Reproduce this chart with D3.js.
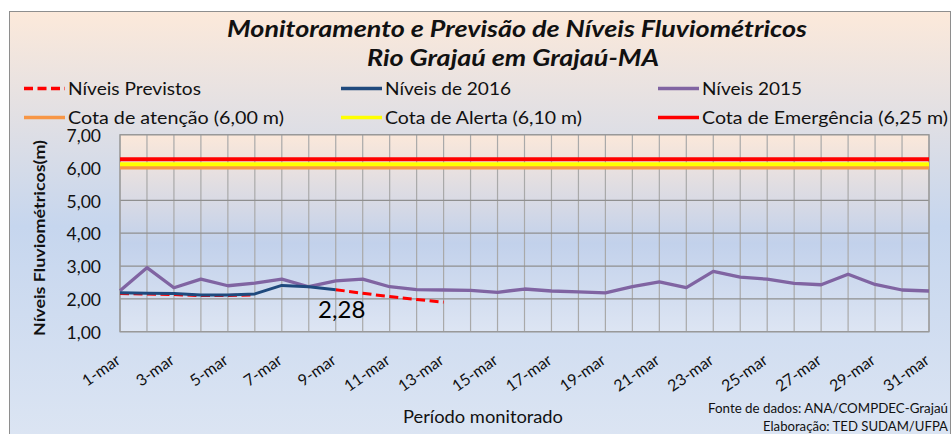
<!DOCTYPE html>
<html>
<head>
<meta charset="utf-8">
<script src="https://cdn.jsdelivr.net/npm/d3@7"></script>
<style>
  body { margin: 0; background: #fff; }
  text { font-family: Lato, "Open Sans", sans-serif; fill: #111; }
</style>
</head>
<body>
<div id="chart"></div>
<script>
const dias = ["1-mar","2-mar","3-mar","4-mar","5-mar","6-mar","7-mar","8-mar","9-mar","10-mar",
  "11-mar","12-mar","13-mar","14-mar","15-mar","16-mar","17-mar","18-mar","19-mar","20-mar",
  "21-mar","22-mar","23-mar","24-mar","25-mar","26-mar","27-mar","28-mar","29-mar","30-mar","31-mar"];
const yTicks = [1, 2, 3, 4, 5, 6, 7];

const niveis2015 = [2.25, 2.95, 2.34, 2.60, 2.40, 2.48, 2.60, 2.37, 2.55, 2.60, 2.37, 2.28, 2.27, 2.26,
  2.20, 2.30, 2.24, 2.21, 2.18, 2.37, 2.52, 2.34, 2.84, 2.66, 2.60, 2.47, 2.43, 2.75, 2.44, 2.27, 2.24];
const niveis2016 = [2.19, 2.17, 2.16, 2.12, 2.12, 2.15, 2.41, 2.37, 2.28];
const previstos = [2.16, 2.15, 2.13, 2.10, 2.10, 2.12, null, null, 2.28, 2.17, 2.07, 1.98, 1.90];

const cotaAtencao = 6.00;
const cotaAlerta = 6.10;
const cotaEmergencia = 6.25;
const ultimoValor = "2,28";

class NivelChart {
  constructor(opts) {
    this.element = document.querySelector(opts.element);
    this.width = 951;
    this.height = 434;

    this.colPrev = "#FF0000";
    this.col2016 = "#1F497D";
    this.col2015 = "#8064A2";
    this.colAtencao = "#F79646";
    this.colAlerta = "#FFFF00";
    this.colEmerg = "#FF0000";

    this.draw();
  }

  draw() {
    this.svg = d3.select(this.element).append("svg")
      .attr("width", this.width)
      .attr("height", this.height);

    this.createScales();
    this.createBackground();
    this.createTitles();
    this.createLegend();
    this.createGrid();
    this.createSeries();
    this.createAxes();
  }

  createScales() {
    this.x = d3.scalePoint().domain(dias).range([120, 929]);
    this.y = d3.scaleLinear().domain([1, 7]).range([331.7, 134.7]);
  }

  createBackground() {
    const defs = this.svg.append("defs");
    const g1 = defs.append("linearGradient").attr("id", "bgChart")
      .attr("x1", 0).attr("y1", 0).attr("x2", 0).attr("y2", 1);
    g1.append("stop").attr("offset", "0%").attr("stop-color", "#FCE9DA");
    g1.append("stop").attr("offset", "50%").attr("stop-color", "#C6D6EE");
    g1.append("stop").attr("offset", "100%").attr("stop-color", "#DCE5F3");

    const g2 = defs.append("linearGradient").attr("id", "bgPlot")
      .attr("x1", 0).attr("y1", 0).attr("x2", 0).attr("y2", 1);
    g2.append("stop").attr("offset", "0%").attr("stop-color", "#FBE8DA");
    g2.append("stop").attr("offset", "55%").attr("stop-color", "#C2D1EB");
    g2.append("stop").attr("offset", "100%").attr("stop-color", "#DDE5F3");

    this.svg.append("rect")
      .attr("x", 9.5).attr("y", 11.5)
      .attr("width", 941).attr("height", 430)
      .attr("fill", "url(#bgChart)")
      .attr("stroke", "#8E8E8E");

    const [x0, x1] = this.x.range();
    const [y0, y1] = this.y.range();
    this.svg.append("rect")
      .attr("x", x0).attr("y", y1)
      .attr("width", x1 - x0).attr("height", y0 - y1)
      .attr("fill", "url(#bgPlot)");
  }

  createTitles() {
    this.svg.append("text")
      .attr("x", 517).attr("y", 36.5)
      .attr("text-anchor", "middle")
      .attr("font-size", 22).attr("font-weight", "bold").attr("font-style", "italic")
      .attr("textLength", 580).attr("lengthAdjust", "spacingAndGlyphs")
      .text("Monitoramento e Previsão de Níveis Fluviométricos");

    this.svg.append("text")
      .attr("x", 513).attr("y", 66)
      .attr("text-anchor", "middle")
      .attr("font-size", 22).attr("font-weight", "bold").attr("font-style", "italic")
      .attr("textLength", 292).attr("lengthAdjust", "spacingAndGlyphs")
      .text("Rio Grajaú em Grajaú-MA");
  }

  createLegend() {
    const items = [
      { label: "Níveis Previstos", color: this.colPrev, dash: "9,4.5", x: 24, row: 0, w: 133 },
      { label: "Níveis de 2016", color: this.col2016, x: 341, row: 0, w: 126 },
      { label: "Níveis 2015", color: this.col2015, x: 658, row: 0, w: 100 },
      { label: "Cota de atenção (6,00 m)", color: this.colAtencao, x: 24, row: 1, w: 216 },
      { label: "Cota de Alerta (6,10 m)", color: this.colAlerta, x: 341, row: 1, w: 197 },
      { label: "Cota de Emergência (6,25 m)", color: this.colEmerg, x: 658, row: 1, w: 246 }
    ];
    const g = this.svg.append("g");
    const rowY = [88.5, 117.5];
    items.forEach(d => {
      g.append("line")
        .attr("x1", d.x).attr("x2", d.x + 41)
        .attr("y1", rowY[d.row]).attr("y2", rowY[d.row])
        .attr("stroke", d.color).attr("stroke-width", 3.5)
        .attr("stroke-dasharray", d.dash || null);
      g.append("text")
        .attr("x", d.x + 44).attr("y", rowY[d.row] + 6.5)
        .attr("font-size", 17.5)
        .attr("textLength", d.w).attr("lengthAdjust", "spacingAndGlyphs")
        .text(d.label);
    });
  }

  createGrid() {
    const [x0, x1] = this.x.range();
    const [y0, y1] = this.y.range();
    const g = this.svg.append("g");

    g.selectAll(".vgrid").data(dias).join("line")
      .attr("x1", d => this.x(d)).attr("x2", d => this.x(d))
      .attr("y1", y1).attr("y2", y0)
      .attr("stroke", "#A9A9A9").attr("stroke-width", 1.2);

    g.selectAll(".hgrid").data(yTicks).join("line")
      .attr("x1", x0).attr("x2", x1)
      .attr("y1", d => this.y(d)).attr("y2", d => this.y(d))
      .attr("stroke", "#8F8F8F").attr("stroke-width", 1.3);

    g.append("rect")
      .attr("x", x0).attr("y", y1)
      .attr("width", x1 - x0).attr("height", y0 - y1)
      .attr("fill", "none").attr("stroke", "#9A9A9A").attr("stroke-width", 1.3);
  }

  createSeries() {
    const g = this.svg.append("g");
    const cotas = [
      { v: cotaAtencao, c: this.colAtencao },
      { v: cotaAlerta, c: this.colAlerta },
      { v: cotaEmergencia, c: this.colEmerg }
    ];
    const [x0, x1] = this.x.range();
    g.selectAll(".cota").data(cotas).join("line")
      .attr("x1", x0).attr("x2", x1)
      .attr("y1", d => this.y(d.v)).attr("y2", d => this.y(d.v))
      .attr("stroke", d => d.c).attr("stroke-width", 4);

    const line = d3.line()
      .defined(d => d != null)
      .x((d, i) => this.x(dias[i]))
      .y(d => this.y(d));

    g.append("path").datum(previstos)
      .attr("d", line)
      .attr("fill", "none").attr("stroke", this.colPrev)
      .attr("stroke-width", 3).attr("stroke-dasharray", "9,4.5");

    g.append("path").datum(niveis2015)
      .attr("d", line)
      .attr("fill", "none").attr("stroke", this.col2015)
      .attr("stroke-width", 3.3).attr("stroke-linejoin", "round");

    g.append("path").datum(niveis2016)
      .attr("d", line)
      .attr("fill", "none").attr("stroke", this.col2016)
      .attr("stroke-width", 3).attr("stroke-linejoin", "round");

    // rotulo do ultimo valor observado
    const last = niveis2016.length - 1;
    g.append("text")
      .attr("x", this.x(dias[last]) + 6)
      .attr("y", this.y(niveis2016[last]) + 28.5)
      .attr("text-anchor", "middle")
      .attr("font-family", "Liberation Sans, Arial, sans-serif")
      .attr("font-size", 24)
      .style("fill", "#000")
      .text(ultimoValor);
  }

  createAxes() {
    const fmt = d => d3.format(".2f")(d).replace(".", ",");
    const yAxis = d3.axisLeft(this.y).tickValues(yTicks).tickSize(0).tickPadding(19).tickFormat(fmt);
    const gy = this.svg.append("g").attr("transform", "translate(120,0)").call(yAxis);
    gy.select(".domain").remove();
    gy.selectAll("text")
      .attr("font-size", 17.5)
      .attr("font-family", "Lato, sans-serif")
      .attr("dy", "0.38em")
      .style("fill", "#111");

    const xAxis = d3.axisBottom(this.x)
      .tickValues(dias.filter((d, i) => i % 2 === 0))
      .tickSize(0);
    const gx = this.svg.append("g").attr("transform", "translate(0,331.7)").call(xAxis);
    gx.select(".domain").remove();
    gx.selectAll("text")
      .attr("font-size", 16)
      .attr("font-family", "Open Sans, sans-serif")
      .attr("text-anchor", "end")
      .attr("dy", null)
      .attr("y", 0)
      .attr("transform", "translate(1,31) rotate(-35)")
      .style("fill", "#111");

    this.svg.append("text")
      .attr("transform", "translate(45,238) rotate(-90)")
      .attr("text-anchor", "middle")
      .attr("font-size", 16).attr("font-weight", "bold")
      .attr("textLength", 196).attr("lengthAdjust", "spacingAndGlyphs")
      .text("Níveis Fluviométricos(m)");

    this.svg.append("text")
      .attr("x", 483).attr("y", 423)
      .attr("text-anchor", "middle")
      .attr("font-size", 17)
      .attr("textLength", 160).attr("lengthAdjust", "spacingAndGlyphs")
      .text("Período monitorado");

    this.svg.append("text")
      .attr("x", 948).attr("y", 412.5)
      .attr("text-anchor", "end")
      .attr("font-size", 13)
      .attr("textLength", 240).attr("lengthAdjust", "spacingAndGlyphs")
      .text("Fonte de dados: ANA/COMPDEC-Grajaú");

    this.svg.append("text")
      .attr("x", 948).attr("y", 431)
      .attr("text-anchor", "end")
      .attr("font-size", 13)
      .attr("textLength", 185).attr("lengthAdjust", "spacingAndGlyphs")
      .text("Elaboração: TED SUDAM/UFPA");
  }
}

new NivelChart({ element: "#chart" });
</script>
</body>
</html>
